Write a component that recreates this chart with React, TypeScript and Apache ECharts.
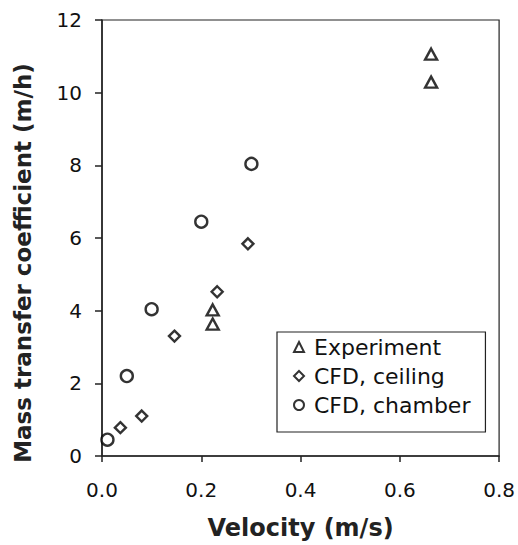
import React, { useEffect, useRef } from "react";
import * as echarts from "echarts";

const xTicks = [0, 0.2, 0.4, 0.6, 0.8];
const yTicks = [0, 2, 4, 6, 8, 10, 12];

const experiment: [number, number][] = [
  [0.223, 4.02],
  [0.223, 3.63],
  [0.663, 11.06],
  [0.663, 10.29],
];
const cfdCeiling: [number, number][] = [
  [0.037, 0.78],
  [0.08, 1.1],
  [0.146, 3.3],
  [0.232, 4.52],
  [0.294, 5.84],
];
const cfdChamber: [number, number][] = [
  [0.011, 0.45],
  [0.05, 2.2],
  [0.1, 4.04],
  [0.2, 6.45],
  [0.301, 8.04],
];

const seriesNames = ["Experiment", "CFD, ceiling", "CFD, chamber"];
const xTitle = "Velocity (m/s)";
const yTitle = "Mass transfer coefficient (m/h)";

export default function App() {
  const ref = useRef<HTMLDivElement>(null);
  useEffect(() => {
    if (!ref.current) return;
    const chart = echarts.init(ref.current, undefined, { renderer: "svg" });
    const ink = "#000";
    const mk = (name: string, symbol: string, size: number | number[], data: [number, number][]) => ({
      type: "scatter",
      name,
      symbol,
      symbolSize: size,
      data,
      itemStyle: { color: "#fff", borderColor: ink, borderWidth: 2.4 },
    });
    chart.setOption({
      animation: false,
      backgroundColor: "#fff",
      grid: {
        left: 102,
        right: 17,
        top: 20,
        bottom: 88,
        show: true,
        borderColor: "#222",
        borderWidth: 1.2,
      },
      graphic: [
        {
          type: "text",
          x: 23,
          y: 263,
          rotation: Math.PI / 2,
          style: {
            text: yTitle,
            fontFamily: "DejaVu Sans",
            fontWeight: "bold",
            fontSize: 23,
            fill: "#222",
            align: "center",
            verticalAlign: "middle",
          },
        },
      ],
      legend: {
        orient: "vertical",
        left: 277,
        top: 332,
        padding: [4, 15, 16, 16],
        itemGap: 7,
        itemWidth: 10,
        itemHeight: 10,
        borderColor: "#222",
        borderWidth: 1.2,
        backgroundColor: "#fff",
        itemStyle: { color: "#fff", borderColor: ink, borderWidth: 2 },
        textStyle: {
          fontFamily: "DejaVu Sans",
          fontSize: 22,
          color: "#111",
          padding: [0, 0, 0, 5],
        },
        data: [
          { name: seriesNames[0], icon: "triangle" },
          { name: seriesNames[1], icon: "diamond" },
          { name: seriesNames[2], icon: "circle" },
        ],
      },
      xAxis: {
        type: "value",
        min: xTicks[0],
        max: xTicks[xTicks.length - 1],
        interval: 0.2,
        name: xTitle,
        nameLocation: "middle",
        nameGap: 60,
        nameTextStyle: {
          fontFamily: "DejaVu Sans",
          fontWeight: "bold",
          fontSize: 24,
          color: "#222",
        },
        axisLine: { show: true, lineStyle: { color: "#222", width: 1.5 } },
        axisTick: { show: true, inside: false, length: 6, lineStyle: { color: "#222", width: 1.5 } },
        axisLabel: {
          margin: 24,
          fontFamily: "DejaVu Sans",
          fontSize: 20,
          color: "#111",
          formatter: (v: number) => v.toFixed(1),
        },
        splitLine: { show: false },
      },
      yAxis: {
        type: "value",
        min: yTicks[0],
        max: yTicks[yTicks.length - 1],
        interval: 2,
        axisLine: { show: true, lineStyle: { color: "#222", width: 1.5 } },
        axisTick: { show: true, inside: false, length: 7, lineStyle: { color: "#222", width: 1.5 } },
        axisLabel: {
          margin: 20,
          fontFamily: "DejaVu Sans",
          fontSize: 20,
          color: "#111",
        },
        splitLine: { show: false },
      },
      series: [
        mk(seriesNames[0], "triangle", [12, 11], experiment),
        mk(seriesNames[1], "diamond", [11, 11], cfdCeiling),
        mk(seriesNames[2], "circle", 12, cfdChamber),
      ],
    });
    return () => chart.dispose();
  }, []);
  return (
    <div
      ref={ref}
      style={{ position: "fixed", left: 0, top: 0, width: 518, height: 545 }}
    />
  );
}
